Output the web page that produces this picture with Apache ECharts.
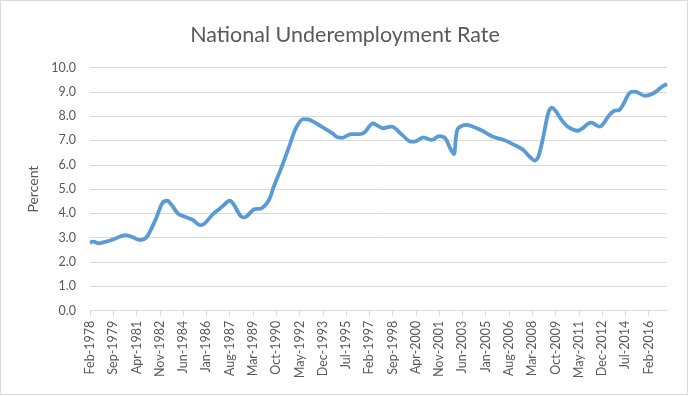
<!DOCTYPE html>
<html>
<head>
<meta charset="utf-8">
<script src="https://cdn.jsdelivr.net/npm/echarts@6/dist/echarts.min.js"></script>
<style>html,body{margin:0;padding:0;background:#fff}#c{width:690px;height:396px}</style>
</head>
<body>
<div id="c"></div>
<script>
// Axis categories: monthly, Feb-1978 .. May-2017
var monthNames = ['Jan','Feb','Mar','Apr','May','Jun','Jul','Aug','Sep','Oct','Nov','Dec'];
var startYear = 1978, startMonth = 1, monthCount = 472;
var categories = [];
for (var i = 0; i < monthCount; i++) {
  var k = startMonth + i;
  categories.push(monthNames[k % 12] + '-' + (startYear + Math.floor(k / 12)));
}
// Values at these months
var pointMonths = ['Feb-1978','May-1978','Sep-1978','Jan-1979','Oct-1979','Feb-1980','Jul-1980','Jan-1981','Jun-1981','Oct-1981',
  'Jan-1982','Aug-1982','Jan-1983','May-1983','Aug-1983','Feb-1984','Jul-1984','Feb-1985','Aug-1985','Nov-1985',
  'Jul-1986','Feb-1987','Aug-1987','Nov-1987','May-1988','Aug-1988','Apr-1989','Oct-1989','Apr-1990','Aug-1990',
  'Feb-1991','Sep-1991','Feb-1992','Aug-1992','Dec-1992','Nov-1993','Aug-1994','Dec-1994','Apr-1995','Nov-1995',
  'Jun-1996','Oct-1996','May-1997','Oct-1997','Jan-1998','Aug-1998','Nov-1998','May-1999','Dec-1999','Mar-2000',
  'Oct-2000','May-2001','Nov-2001','Apr-2002','Aug-2002','Nov-2002','Feb-2003','Sep-2003','Sep-2004','Jul-2005',
  'Apr-2006','Nov-2006','Jul-2007','Jan-2008','May-2008','Aug-2008','Dec-2008','Apr-2009','Jul-2009','Oct-2009',
  'Mar-2010','Aug-2010','Apr-2011','Jan-2012','Mar-2012','Oct-2012','Jun-2013','Oct-2013','Feb-2014','May-2014',
  'Nov-2014','Mar-2015','Nov-2015','Jun-2016','Jan-2017','May-2017'];
var pointValues = [2.80,2.84,2.77,2.81,2.95,3.04,3.11,3.02,2.91,2.94,
  3.07,3.80,4.42,4.52,4.39,3.98,3.87,3.73,3.52,3.56,
  4.00,4.28,4.52,4.39,3.89,3.84,4.17,4.21,4.55,5.10,
  5.85,6.81,7.50,7.88,7.87,7.57,7.29,7.13,7.11,7.26,
  7.26,7.33,7.70,7.57,7.50,7.57,7.50,7.22,6.95,6.95,
  7.13,7.02,7.18,7.09,6.68,6.44,7.46,7.64,7.43,7.15,
  7.02,6.85,6.64,6.33,6.17,6.33,7.15,8.12,8.35,8.22,
  7.84,7.57,7.40,7.70,7.73,7.57,8.05,8.22,8.25,8.46,
  8.98,9.01,8.83,8.94,9.21,9.32];
var yTicks = [0,1,2,3,4,5,6,7,8,9,10];

var seriesData = pointMonths.map(function (m, i) { return [m, pointValues[i]]; });
var chart = echarts.init(document.getElementById('c'));
chart.setOption({
  animation: false,
  title: {
    text: 'National Underemployment Rate',
    left: 'center', top: 19,
    textStyle: { fontFamily: 'Lato', fontSize: 21.5, fontWeight: 'normal', color: '#595959' }
  },
  graphic: [{
    type: 'rect', shape: { x: 0.5, y: 0.5, width: 687, height: 394 },
    style: { fill: 'none', stroke: '#d9d9d9', lineWidth: 1 }, silent: true
  }],
  grid: { left: 90, right: 23, top: 67.5, bottom: 85.3, containLabel: false },
  xAxis: {
    type: 'category', data: categories, boundaryGap: false,
    axisLine: { lineStyle: { color: '#d9d9d9' } },
    axisTick: { interval: 18, lineStyle: { color: '#d9d9d9' }, length: 5 },
    axisLabel: { interval: 18, rotate: 90, margin: 10, fontFamily: 'Lato', fontSize: 12.5, color: '#595959' },
    splitLine: { show: false }
  },
  yAxis: {
    type: 'value', min: yTicks[0], max: yTicks[yTicks.length - 1], interval: 1,
    name: 'Percent', nameLocation: 'middle', nameGap: 47, nameRotate: 90,
    nameTextStyle: { fontFamily: 'Lato', fontSize: 14, color: '#595959' },
    axisLine: { show: false }, axisTick: { show: false },
    axisLabel: { fontFamily: 'Lato', fontSize: 12.5, color: '#595959', margin: 14,
      formatter: function (v) { return v.toFixed(1); } },
    splitLine: { lineStyle: { color: '#d9d9d9' } }
  },
  series: [{
    type: 'line', data: seriesData, smooth: 0.3, showSymbol: false,
    lineStyle: { color: '#5B9BD5', width: 3.8 }
  }]
});
</script>
</body>
</html>
